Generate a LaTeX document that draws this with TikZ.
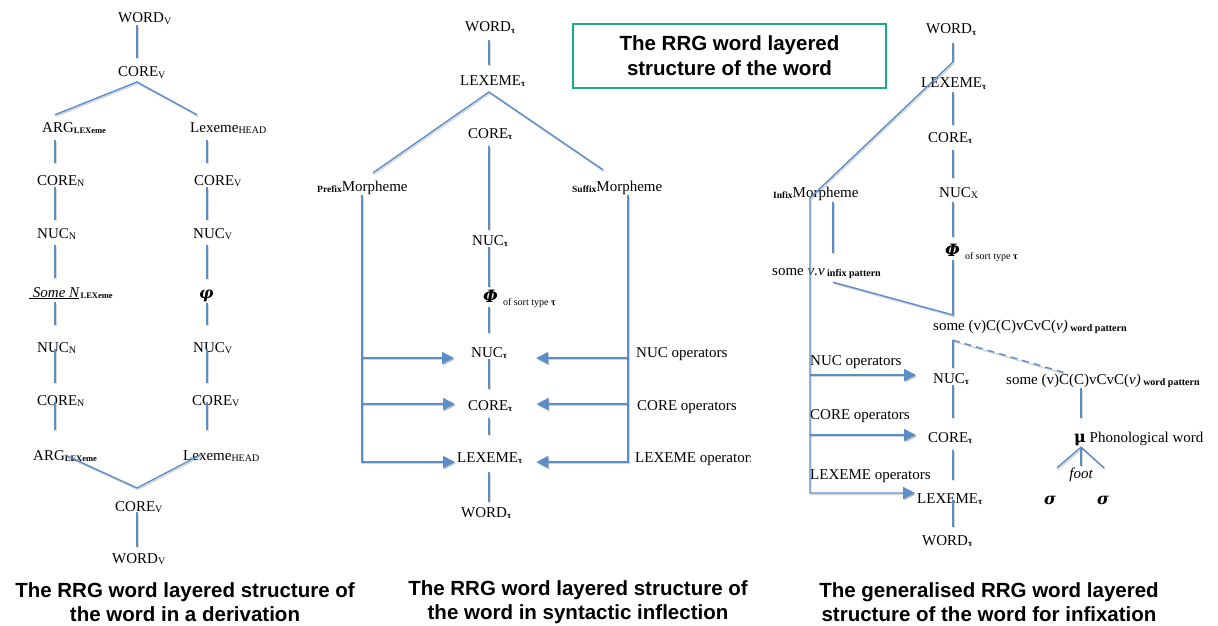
\documentclass[tikz,border=0pt]{standalone}
\usepackage{fontspec}
\setmainfont{Liberation Serif}
\newfontfamily\capfont{Liberation Sans}
\newfontfamily\grk{DejaVu Serif}
\usetikzlibrary{arrows.meta,calc}

\definecolor{lblue}{HTML}{5B8DC9}
\definecolor{boxgreen}{HTML}{1BA98B}

% small lowered labels
\newcommand\subsc[1]{\raisebox{-0.25ex}{\fontsize{10}{10}\selectfont #1}}
\newcommand\subbf[2][8.5]{\raisebox{-0.25ex}{\fontsize{#1}{10}\selectfont\bfseries #2}}
\newcommand\subtau{\raisebox{-0.25ex}{\fontsize{9}{9}\selectfont\bfseries τ}}
\newcommand\bigPhi{{\grk\fontsize{17}{17}\selectfont\bfseries\itshape Φ}}

\tikzset{
  lbl/.style={font=\fontsize{15}{15}\selectfont, inner sep=0pt,
              text height=10pt, text depth=4pt, anchor=base west},
  ln/.style={draw=lblue, line width=1.4pt,
             preaction={draw=black, opacity=0.16, line width=1.4pt,
                        transform canvas={xshift=1pt,yshift=-1.5pt}}},
  arr/.style={ln, -{Triangle[length=12pt,width=12pt]}},
  caption/.style={font=\capfont\bfseries\fontsize{20.5}{24}\selectfont,
                  align=center, inner sep=0pt},
}

\begin{document}
\begin{tikzpicture}[x=1pt,y=-1pt]
\useasboundingbox (0,0) rectangle (1218,626);

% ---------------- derivation tree ----------------
\coordinate (x1c) at (137,0);
\coordinate (x1l) at (55,0);
\coordinate (x1r) at (207,0);
\coordinate (x1rd) at (197,0);
\coordinate (ap1) at (137,82);
\coordinate (bt1) at (137,488);

\node[lbl] (w1) at (118,23) {WORD\subsc{V}};
\node[lbl] (c1) at (118,77) {CORE\subsc{V}};
\node[lbl] (argA) at (42,132) {ARG\subbf{LEXeme}};
\node[lbl] (lexA) at (190,132) {Lexeme\subsc{HEAD}};
\node[lbl] (cN1) at (37,185) {CORE\subsc{N}};
\node[lbl] (cV1) at (194,185) {CORE\subsc{V}};
\node[lbl] (nN1) at (37,238) {NUC\subsc{N}};
\node[lbl] (nV1) at (193,238) {NUC\subsc{V}};
\node[lbl] (some) at (29,297) {\underline{\itshape\ Some N}\subbf{\,LEXeme}};
\node[lbl] (phi) at (199,298) {\grk\fontsize{16}{16}\selectfont\bfseries\itshape φ};
\node[lbl] (nN2) at (37,352) {NUC\subsc{N}};
\node[lbl] (nV2) at (193,352) {NUC\subsc{V}};
\node[lbl] (cN2) at (37,405) {CORE\subsc{N}};
\node[lbl] (cV2) at (192,405) {CORE\subsc{V}};
\node[lbl] (argB) at (33,460) {ARG\subbf{LEXeme}};
\node[lbl] (lexB) at (183,460) {Lexeme\subsc{HEAD}};
\node[lbl] (c1b) at (115,511) {CORE\subsc{V}};
\node[lbl] (w1b) at (112,563) {WORD\subsc{V}};

\draw[ln, shorten <=-2pt, shorten >=9pt] (w1.south -| x1c) -- (c1.north -| x1c);
\draw[ln] ($(argA.north -| x1l)+(0,-7)$) -- (ap1) -- ($(lexA.north -| x1rd)+(0,-7)$);
\draw[ln, shorten <=4pt, shorten >=12pt] (argA.south -| x1l) -- (cN1.north -| x1l);
\draw[ln, shorten <=4pt, shorten >=12pt] (lexA.south -| x1r) -- (cV1.north -| x1r);
\draw[ln, shorten <=-2pt, shorten >=8pt] (cN1.south -| x1l) -- (nN1.north -| x1l);
\draw[ln, shorten <=-2pt, shorten >=8pt] (cV1.south -| x1r) -- (nV1.north -| x1r);
\draw[ln, shorten <=3pt, shorten >=9pt] (nN1.south -| x1l) -- (some.north -| x1l);
\draw[ln, shorten <=3pt, shorten >=9pt] (nV1.south -| x1r) -- (phi.north -| x1r);
\draw[ln, shorten <=1pt, shorten >=17pt] (some.south -| x1l) -- (nN2.north -| x1l);
\draw[ln, shorten <=1pt, shorten >=17pt] (phi.south -| x1r) -- (nV2.north -| x1r);
\draw[ln, shorten >=12pt] (nN2.center -| x1l) -- (cN2.north -| x1l);
\draw[ln, shorten >=12pt] (nV2.center -| x1r) -- (cV2.north -| x1r);
\draw[ln, shorten >=20pt] (cN2.center -| x1l) -- (argB.north -| x1l);
\draw[ln, shorten >=20pt] (cV2.center -| x1r) -- (lexB.north -| x1r);
\draw[ln] ($(argB.center)+(0,-2)$) -- (bt1) -- ($(lexB.center)+(-21,-2)$);
\draw[ln, shorten <=-3pt, shorten >=6pt] (c1b.south -| x1c) -- (w1b.north -| x1c);

% ---------------- inflection tree ----------------
\coordinate (x2c) at (489,0);
\coordinate (x2l) at (362,0);
\coordinate (x2r) at (628,0);
\coordinate (x2pd) at (373,0);
\coordinate (x2sd) at (603,0);
\coordinate (ap2) at (489,92);

\node[lbl] (w2) at (465,32) {WORD\subtau};
\node[lbl] (lex2) at (460,85) {LEXEME\subtau};
\node[lbl] (core2) at (468,138) {CORE\subtau};
\node[lbl] (pre) at (317,191) {\subbf[9.5]{Prefix}Morpheme};
\node[lbl] (suf) at (572,191) {\subbf[9.5]{Suffix}Morpheme};
\node[lbl] (nuc2) at (472,245) {NUC\subtau};
\node[lbl] (phi2) at (483,302) {\bigPhi\hspace{5pt}\raisebox{-3pt}{\fontsize{10}{10}\selectfont of sort type \textbf{τ}}};
\node[lbl] (nuc2b) at (471,357) {NUC\subtau};
\node[lbl] (core2b) at (468,410) {CORE\subtau};
\node[lbl] (lex2b) at (457,462) {LEXEME\subtau};
\node[lbl] (w2b) at (461,517) {WORD\subtau};
\node[lbl] (nop2) at (636,357) {NUC operators};
\node[lbl] (cop2) at (637,410) {CORE operators};
\begin{scope}
  \clip (600,440) rectangle (750,480);
  \node[lbl] (lop2) at (635,462) {LEXEME operators};
\end{scope}

\draw[ln, shorten <=4pt, shorten >=10pt] (w2.south -| x2c) -- (lex2.north -| x2c);
\draw[ln] ($(pre.north -| x2pd)+(0,-8)$) -- (ap2) -- ($(suf.north -| x2sd)+(0,-11)$);
\draw[ln, shorten <=4pt, shorten >=5pt] (core2.south -| x2c) -- (nuc2.north -| x2c);
\draw[ln, shorten <=-2pt, shorten >=5pt] (nuc2.south -| x2c) -- (phi2.north -| x2c);
\draw[ln, shorten <=1pt, shorten >=14pt] (phi2.south -| x2c) -- (nuc2b.north -| x2c);
\draw[ln, shorten <=-2pt, shorten >=11pt] (nuc2b.south -| x2c) -- (core2b.north -| x2c);
\draw[ln, shorten <=4pt, shorten >=17pt] (core2b.south -| x2c) -- (lex2b.north -| x2c);
\draw[ln, shorten <=6pt, shorten >=5pt] (lex2b.south -| x2c) -- (w2b.north -| x2c);

\draw[arr] (pre.south -| x2l) -- ($(x2l |- lex2b.center)+(0,3)$) -- ($(lex2b.west)+(-2,3)$);
\draw[arr] ($(x2l |- nuc2b.center)+(0,4)$) -- ($(nuc2b.west)+(-17,4)$);
\draw[arr] ($(x2l |- core2b.center)+(0,-3)$) -- ($(core2b.west)+(-13,-3)$);
\draw[arr] (suf.south -| x2r) -- ($(x2r |- lex2b.center)+(0,3)$) -- ($(lex2b.east)+(14,3)$);
\draw[arr] ($(x2r |- nuc2b.center)+(0,4)$) -- ($(nuc2b.east)+(29,4)$);
\draw[arr] ($(x2r |- core2b.center)+(0,-3)$) -- ($(core2b.east)+(24,-3)$);

% ---------------- infixation tree ----------------
\coordinate (x3c) at (953,0);
\coordinate (x3l) at (810,0);
\coordinate (x3m) at (833,0);
\coordinate (x3p) at (1081,0);
\coordinate (jt) at (953,62);
\coordinate (ic) at (810,198);
\coordinate (cv) at (953,315);

\node[lbl] (w3) at (926,34) {WORD\subtau};
\node[lbl] (lex3) at (921,88) {LEXEME\subtau};
\node[lbl] (core3) at (928,142) {CORE\subtau};
\node[lbl] (inf) at (773,197) {\subbf[9.5]{Infix}Morpheme};
\node[lbl] (nx) at (939,197) {NUC\subsc{X}};
\node[lbl] (phi3) at (945,256) {\bigPhi\hspace{5pt}\raisebox{-3pt}{\fontsize{10}{10}\selectfont of sort type \textbf{τ}}};
\node[lbl] (svv) at (772,275) {some \textit{ν.ν}\,\subbf[10]{infix pattern}};
\node[lbl] (pat1) at (933,330) {some (v)C(C)vCvC(\textit{v)}\,\subbf[10]{word pattern}};
\node[lbl] (nuc3) at (933,383) {NUC\subtau};
\node[lbl] (pat2) at (1006,384) {some (v)C(C)vCvC(\textit{v)}\,\subbf[10]{word pattern}};
\node[lbl] (core3b) at (928,442) {CORE\subtau};
\node[lbl] (mu) at (1074,442) {{\grk\fontsize{16}{16}\selectfont\bfseries μ} Phonological word};
\node[lbl, anchor=center] (foot) at (1081,475) {\itshape foot};
\node[lbl] (s1) at (1044,504) {\grk\fontsize{16}{16}\selectfont\bfseries\itshape σ};
\node[lbl] (s2) at (1097,504) {\grk\fontsize{16}{16}\selectfont\bfseries\itshape σ};
\node[lbl] (lex3b) at (917,503) {LEXEME\subtau};
\node[lbl] (w3b) at (922,545) {WORD\subtau};
\node[lbl] (nop3) at (810,365) {NUC operators};
\node[lbl] (cop3) at (810,419) {CORE operators};
\node[lbl] (lop3) at (810,479) {LEXEME operators};

\draw[ln, shorten <=5pt] (w3.south -| x3c) -- (jt);
\draw[arr] (jt) -- (ic) -- ($(x3l |- lex3b.center)+(0,-7)$) -- ($(lex3b.west)+(-2,-7)$);
\draw[arr] ($(x3l |- nuc3.center)+(0,-5)$) -- ($(nuc3.west)+(-17,-5)$);
\draw[arr] ($(x3l |- core3b.center)+(0,-4)$) -- ($(core3b.west)+(-12,-4)$);
\draw[ln, shorten >=7pt] (lex3.south -| x3c) -- (core3.north -| x3c);
\draw[ln, shorten <=4pt, shorten >=9pt] (core3.south -| x3c) -- (nx.north -| x3c);
\draw[ln, shorten <=1pt, shorten >=9pt] (nx.south -| x3c) -- (phi3.north -| x3c);
\draw[ln] (phi3.south -| x3c) -- (cv);
\draw[ln, shorten <=1pt, shorten >=12pt] (inf.south -| x3m) -- (svv.north -| x3m);
\draw[ln] ($(svv.south -| x3m)+(0,3)$) -- (cv);
\coordinate (dj) at ($(pat1.south -| x3c)+(0,6)$);
\draw[ln, shorten >=5pt] (dj) -- (nuc3.north -| x3c);
\draw[ln, dashed, dash pattern=on 7pt off 5pt] (dj) -- ($(pat2.north west)+(59,-1)$);
\draw[ln, shorten <=-2pt, shorten >=14pt] (nuc3.south -| x3c) -- (core3b.north -| x3c);
\draw[ln, shorten <=4pt, shorten >=13pt] (core3b.south -| x3c) -- (lex3b.north -| x3c);
\draw[ln, shorten >=8pt] (lex3b.center -| x3c) -- (w3b.north -| x3c);
\draw[ln, shorten >=14pt] (pat2.south -| x3p) -- (mu.north -| x3p);
\coordinate (mj) at ($(mu.south -| x3p)+(0,1)$);
\draw[ln] ($(foot.north)+(-24,0)$) -- (mj) -- ($(foot.north)+(23,0)$);
\draw[ln, shorten >=2pt] (mj) -- (foot.north);

% ---------------- title and captions ----------------
\node[draw=boxgreen, line width=1.5pt, minimum width=313pt, minimum height=64pt,
      inner sep=0pt, align=center, font=\capfont\bfseries\fontsize{20.5}{25}\selectfont]
      (title) at (729.5,56) {The RRG word layered\\structure of the word};
\node[caption] (cap1) at (185,602) {The RRG word layered structure of\\the word in a derivation};
\node[caption] (cap2) at (578,602) {The RRG word layered structure of\\the word in syntactic inflection};
\node[caption] (cap3) at (989,602) {The generalised RRG word layered\\structure of the word for infixation};
\end{tikzpicture}
\end{document}
